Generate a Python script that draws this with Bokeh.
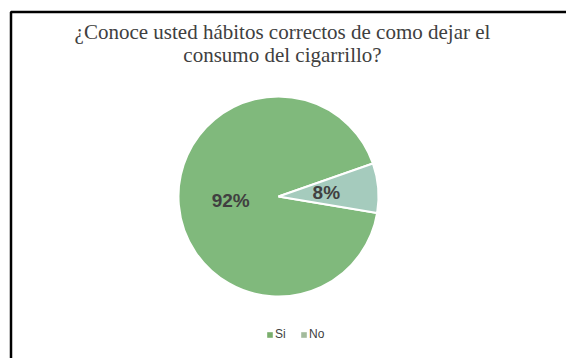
import math
from bokeh.plotting import figure
from bokeh.models import Range1d, Legend, LegendItem
from bokeh.core.properties import value
from bokeh.embed import file_html
from bokeh.resources import INLINE

title_lines = ["¿Conoce usted hábitos correctos de como dejar el",
               "consumo del cigarrillo?"]
categories = ["Si", "No"]
percent = [92, 8]
labels = ["92%", "8%"]
colors = ["#80b97c", "#a5cbbd"]
legend_colors = ["#7aae6c", "#a3bb9c"]

W, H = 566, 358
p = figure(width=W, height=H, output_backend="svg", toolbar_location=None,
           x_range=Range1d(0, W), y_range=Range1d(0, H),
           min_border=0, x_axis_location=None, y_axis_location=None,
           outline_line_color=None, background_fill_color="white",
           border_fill_color="white")
p.xgrid.visible = False
p.ygrid.visible = False

# frame lines (left and top)
p.line([10.5, 10.5, W], [0, 346.5, 346.5], line_color="black", line_width=2.5)

# title
p.text(x=[282, 282], y=[358 - 31, 358 - 54], text=title_lines, text_align="center",
       text_baseline="middle", text_font=value("Liberation Serif"),
       text_font_size="21px", text_color="#404040")

cx, cy, R = 278, 358 - 196, 100
offset = 19.3
total = sum(percent)
starts, ends, mids = [], [], []
a = math.radians(offset)
for v in percent:
    span = 2 * math.pi * v / total
    starts.append(a)
    ends.append(a + span)
    mids.append(a + span / 2)
    a += span

for i in range(len(categories)):
    p.wedge(x=cx, y=cy, radius=R, start_angle=starts[i], end_angle=ends[i],
            fill_color=colors[i], line_color="white", line_width=2)

lx = [cx + 0.48 * R * math.cos(m) for m in mids]
ly = [cy + 0.48 * R * math.sin(m) for m in mids]
p.text(x=lx, y=ly, text=labels, text_align="center", text_baseline="middle",
       text_font=value("Liberation Sans"), text_font_style="bold",
       text_font_size="19px", text_color="#404040")

# legend proxies (zero-size square swatches at the pie centre)
items = []
for c, col in zip(categories, legend_colors):
    r = p.quad(left=[cx], right=[cx], top=[cy], bottom=[cy],
               fill_color=col, line_color=None)
    items.append(LegendItem(label=c, renderers=[r]))

legend = Legend(items=items, orientation="horizontal", location=(266, 17),
                label_text_font="Liberation Sans", label_text_font_size="12px",
                label_text_color="#404040", glyph_width=7, glyph_height=7,
                label_standoff=2, spacing=5, padding=0, border_line_color=None,
                background_fill_alpha=0, label_height=12)
p.add_layout(legend)

open("out.html", "w").write(file_html(p, INLINE))
